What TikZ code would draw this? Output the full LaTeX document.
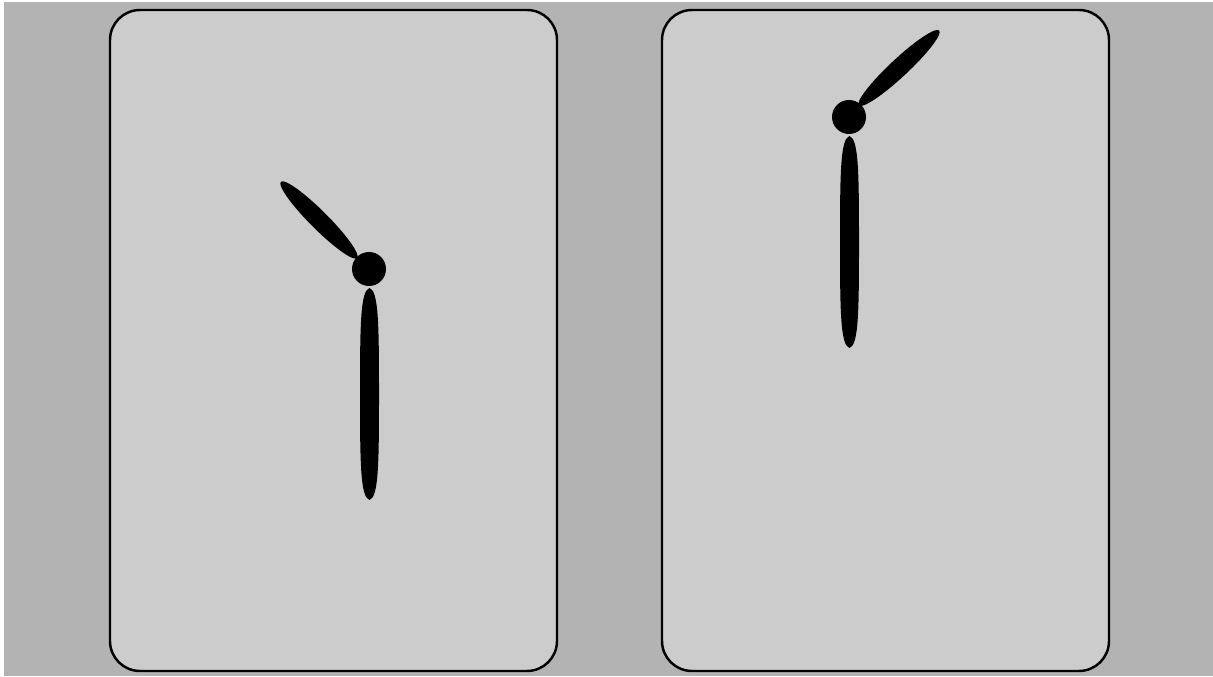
\documentclass[tikz,border=0pt]{standalone}
\usepackage{tikz}
\usetikzlibrary{positioning}

\definecolor{backgray}{HTML}{B3B3B3}
\definecolor{facegray}{HTML}{CCCCCC}

\begin{document}
\begin{tikzpicture}[x=0.02cm, y=0.02cm]
    % Define styles
    \tikzstyle{card} = [draw=black, line width=1.4pt, fill=facegray, rounded corners=0.6cm]
    \tikzstyle{hub} = [circle, fill=black, inner sep=0pt, minimum size=0.68cm]
    \tikzstyle{hand} = [fill=black]

    % Background
    \useasboundingbox (0,0) rectangle (1213,676);
    \fill[white] (0,0) rectangle (1213,676);
    \fill[backgray] (4,0) rectangle (1213,674);

    % Cards
    \draw[card] (110,5) rectangle (557,666);
    \draw[card] (662,5) rectangle (1109,666);

    % Left dial
    \node[hub] (lefthub) at (369,407) {};
    \fill[hand, shift={(369.5,282)}] (0,106) .. controls (9,103) and (9.5,71) .. (9.5,0)
        .. controls (9.5,-71) and (9,-103) .. (0,-106)
        .. controls (-9,-103) and (-9.5,-71) .. (-9.5,0)
        .. controls (-9.5,71) and (-9,103) .. cycle;
    \fill[hand, rotate around={135:(319,456)}] (319,456) ellipse [x radius=54, y radius=9];

    % Right dial
    \node[hub] (righthub) at (849,559) {};
    \fill[hand, shift={(849.5,434)}] (0,106) .. controls (9,103) and (9.5,71) .. (9.5,0)
        .. controls (9.5,-71) and (9,-103) .. (0,-106)
        .. controls (-9,-103) and (-9.5,-71) .. (-9.5,0)
        .. controls (-9.5,71) and (-9,103) .. cycle;
    \fill[hand, rotate around={43:(899,608)}] (899,608) ellipse [x radius=55, y radius=9];
\end{tikzpicture}
\end{document}
